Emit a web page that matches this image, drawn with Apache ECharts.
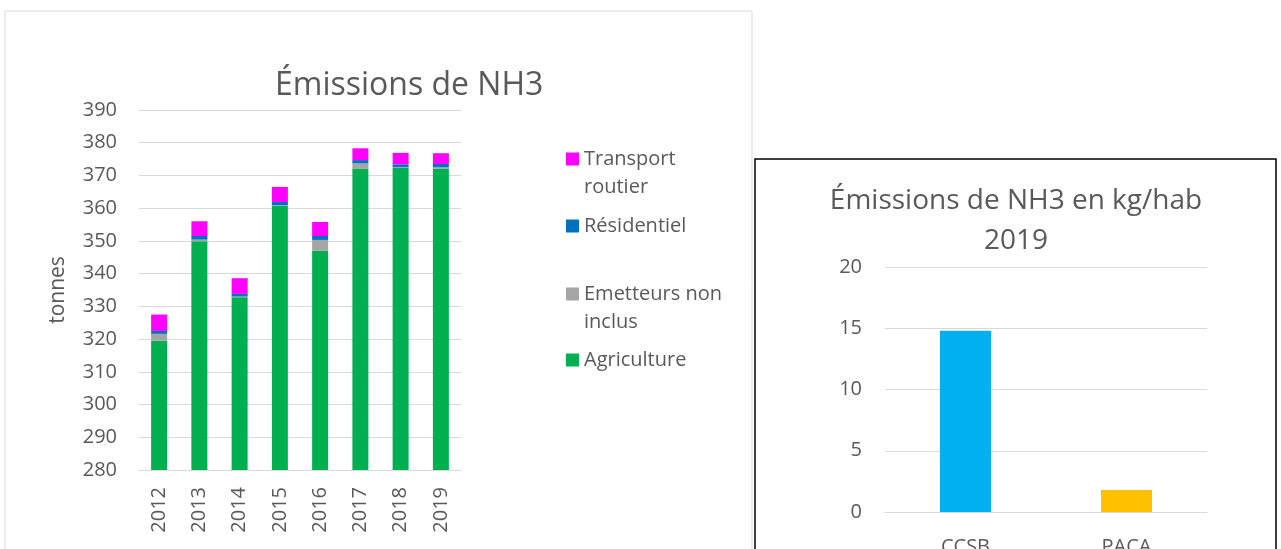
<!DOCTYPE html>
<html>
<head>
<meta charset="utf-8">
<script src="https://cdn.jsdelivr.net/npm/echarts@6/dist/echarts.min.js"></script>
<style>
  html, body { margin: 0; padding: 0; background: #fff; }
  #chart { width: 1281px; height: 549px; }
</style>
</head>
<body>
<div id="chart"></div>
<script>
// données
const years = ['2012', '2013', '2014', '2015', '2016', '2017', '2018', '2019'];
const agriculture = [319.5, 349.9, 332.8, 360.7, 347.0, 372.1, 372.3, 372.1];
const emetteurs = [2.1, 0.5, 0.2, 0.2, 3.3, 1.6, 0.2, 0.4];
const residentiel = [0.9, 1.1, 0.8, 1.0, 1.2, 1.0, 0.9, 1.0];
const transport = [5.0, 4.5, 4.8, 4.6, 4.3, 3.6, 3.5, 3.3];

const zones = ['CCSB', 'PACA'];
const kgParHab = [14.8, 1.8];

const FONT = '"Open Sans", sans-serif';
const TXT = '#595959';
const GRIDC = '#D9D9D9';

const chart = echarts.init(document.getElementById('chart'));

// légende : un composant par entrée pour suivre l'espacement d'Excel
// (ligne vide en tête pour garder le carré en face de la première ligne)
const legendItems = [
  { name: 'Transport routier', label: '\nTransport\nroutier', y: 159, lines: 3 },
  { name: 'Résidentiel', label: 'Résidentiel', y: 226, lines: 1 },
  { name: 'Emetteurs non inclus', label: '\nEmetteurs non\ninclus', y: 294, lines: 3 },
  { name: 'Agriculture', label: 'Agriculture', y: 360, lines: 1 }
];
const LH = 28;

const legends = legendItems.map(it => ({
  data: [it.name],
  left: 566,
  top: it.y - LH * it.lines / 2,
  padding: 0,
  itemWidth: 13,
  itemHeight: 13,
  itemGap: 0,
  icon: 'rect',
  selectedMode: false,
  formatter: () => it.label,
  textStyle: { fontFamily: FONT, fontSize: 20, color: TXT, lineHeight: LH }
}));

chart.setOption({
  animation: false,
  textStyle: { fontFamily: FONT },
  graphic: [
    { type: 'rect', z: 0, shape: { x: 5, y: 11, width: 747, height: 600 },
      style: { fill: '#fff', stroke: GRIDC, lineWidth: 1 } },
    { type: 'rect', z: 0, shape: { x: 755, y: 159, width: 521, height: 500 },
      style: { fill: '#fff', stroke: '#000', lineWidth: 1.5 } }
  ],
  title: [
    { text: 'Émissions de NH3', left: 275, top: 70, padding: 0,
      textStyle: { fontFamily: FONT, fontSize: 32, fontWeight: 'normal', color: TXT } },
    { text: 'Émissions de NH3 en kg/hab\n2019', left: 1016, top: 181, padding: 0, textAlign: 'center',
      textStyle: { fontFamily: FONT, fontSize: 28, fontWeight: 'normal', color: TXT, lineHeight: 40 } }
  ],
  legend: legends,
  grid: [
    { left: 139, top: 110, width: 322, height: 360, outerBoundsMode: 'none' },
    { left: 885, top: 267, width: 322, height: 245, outerBoundsMode: 'none' }
  ],
  xAxis: [
    { type: 'category', gridIndex: 0, data: years,
      axisLine: { lineStyle: { color: GRIDC } }, axisTick: { show: false },
      axisLabel: { rotate: 90, margin: 17, fontSize: 20, color: TXT, fontFamily: FONT } },
    { type: 'category', gridIndex: 1, data: zones,
      axisLine: { lineStyle: { color: GRIDC } }, axisTick: { show: false },
      axisLabel: { margin: 25, fontSize: 20, color: TXT, fontFamily: FONT } }
  ],
  yAxis: [
    { type: 'value', gridIndex: 0, min: 280, max: 390, interval: 10,
      name: 'tonnes', nameLocation: 'middle', nameGap: 70, nameRotate: 90,
      nameTextStyle: { fontSize: 21, color: TXT, fontFamily: FONT },
      axisLine: { show: false }, axisTick: { show: false },
      axisLabel: { margin: 22, fontSize: 20, color: TXT, fontFamily: FONT },
      splitLine: { lineStyle: { color: GRIDC } } },
    { type: 'value', gridIndex: 1, min: 0, max: 20, interval: 5,
      axisLine: { show: false }, axisTick: { show: false },
      axisLabel: { margin: 23, fontSize: 20, color: TXT, fontFamily: FONT },
      splitLine: { lineStyle: { color: GRIDC } } }
  ],
  series: [
    { name: 'Agriculture', type: 'bar', stack: 'nh3', barWidth: 16, data: agriculture,
      itemStyle: { color: '#00B050' } },
    { name: 'Emetteurs non inclus', type: 'bar', stack: 'nh3', barWidth: 16, data: emetteurs,
      itemStyle: { color: '#A5A5A5' } },
    { name: 'Résidentiel', type: 'bar', stack: 'nh3', barWidth: 16, data: residentiel,
      itemStyle: { color: '#0070C0' } },
    { name: 'Transport routier', type: 'bar', stack: 'nh3', barWidth: 16, data: transport,
      itemStyle: { color: '#FF00FF' } },
    { name: 'kg/hab', type: 'bar', xAxisIndex: 1, yAxisIndex: 1, barWidth: 51,
      data: kgParHab.map((v, i) => ({ value: v, itemStyle: { color: i === 0 ? '#00B0F0' : '#FFC000' } })) }
  ]
});
</script>
</body>
</html>
